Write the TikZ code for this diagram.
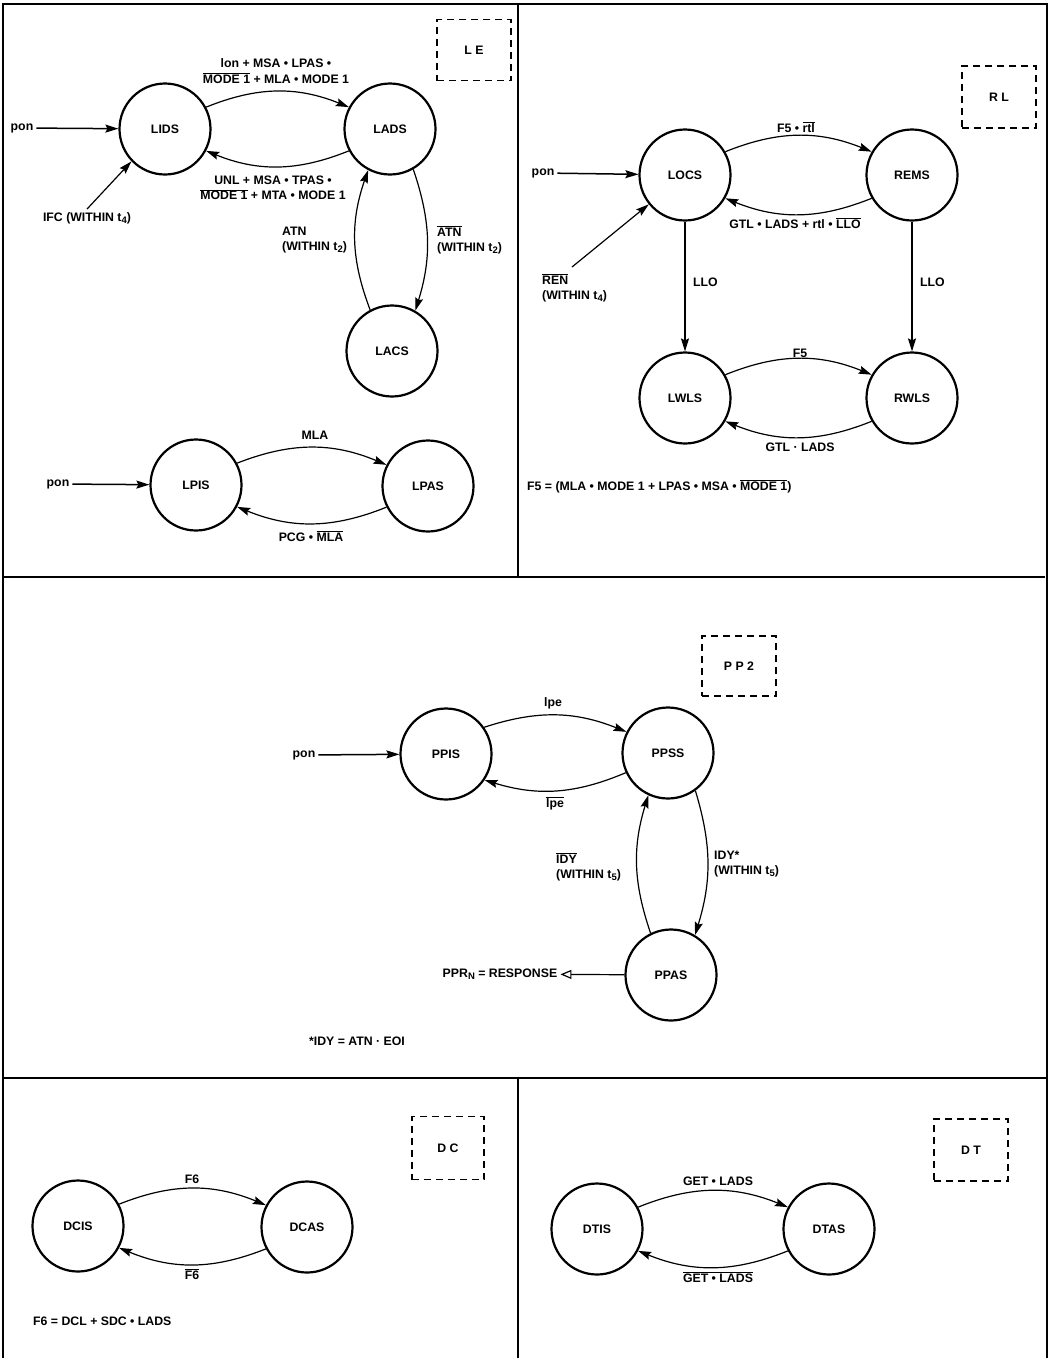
\documentclass[tikz,border=0pt]{standalone}
\usepackage{fontspec}
\setmainfont{Liberation Sans}
\usepackage{tikz}
\usetikzlibrary{arrows.meta, positioning}
\newcommand{\ovl}[1]{$\overline{\hbox{#1}}$}
\newcommand{\lblfont}{\fontsize{12.3}{15.5}\selectfont\bfseries}
\newcommand{\sub}[1]{\raisebox{-0.35ex}{\fontsize{9.5}{10}\selectfont #1}}
\tikzset{
  state/.style={circle, draw=black, line width=2.2pt, minimum size=91pt, inner sep=0pt,
                font=\lblfont},
  lbl/.style={font=\lblfont, inner sep=3pt},
  arr/.style={-{Stealth[length=13pt, width=8pt, inset=2pt]}, line width=1.2pt},
  inarr/.style={-{Stealth[length=13pt, width=8pt, inset=2pt]}, line width=1.5pt},
  tagbox/.style={draw, line width=1.2pt, dash pattern=on 7pt off 5pt,
                 minimum width=74pt, minimum height=61pt, font=\lblfont},
  frame/.style={line width=1.8pt},
}

\begin{document}
\begin{tikzpicture}[x=1pt, y=1pt]
  \useasboundingbox (0,0) rectangle (1050,-1358);
  % frame
  \draw[frame] (3,-1358) -- (3,-4) -- (1047,-4) -- (1047,-1358);
  \draw[frame, line width=2.2pt] (3,-577) -- (1045,-577);
  \draw[frame, line width=2.2pt] (3,-1078) -- (1047,-1078);
  \draw[line width=1.2pt] (518,-4) -- (518,-577);
  \draw[line width=1.2pt] (518,-1078) -- (518,-1358);

  % LE
  \node[tagbox] (tagLE) at (474,-50) {L E};
  \node[state] (LIDS) at (165,-129) {LIDS};
  \node[state] (LADS) at (390,-129) {LADS};
  \node[state] (LACS) at (392,-351) {LACS};
  \node[lbl] (pon1) at (22,-128) {pon};
  \node[lbl] (ifc) at (87,-218) {IFC (WITHIN t\sub{4})};
  \node[lbl, align=center] (le1) at (276,-71) {lon + MSA • LPAS •\\\ovl{MODE 1} + MLA • MODE 1};
  \node[lbl, align=center] (le2) at (273,-188) {UNL + MSA • TPAS •\\\ovl{MODE 1} + MTA • MODE 1};
  \node[lbl, align=left, anchor=west] (atn) at (279,-240) {ATN\\(WITHIN t\sub{2})};
  \node[lbl, align=left, anchor=west] (natn) at (434,-240) {\ovl{ATN}\\(WITHIN t\sub{2})};
  \draw[inarr] (pon1) -- (LIDS);
  \draw[arr] (ifc.north) -- (LIDS.-136);
  \draw[arr] (LIDS.28) to[bend left=22] (LADS.152);
  \draw[arr] (LADS.-152) to[bend left=22] (LIDS.-28);
  \draw[arr] (LADS.-60) to[bend left=18] (LACS.60);
  \draw[arr] (LACS.118) to[bend left=20] (LADS.-118);

  \node[state] (LPIS) at (196,-485) {LPIS};
  \node[state] (LPAS) at (428,-486) {LPAS};
  \node[lbl] (pon2) at (58,-484) {pon};
  \node[lbl] (mla) at (315,-435) {MLA};
  \node[lbl] (pcg) at (311,-536) {PCG • \ovl{MLA}};
  \draw[inarr] (pon2) -- (LPIS);
  \draw[arr] (LPIS.28) to[bend left=22] (LPAS.153);
  \draw[arr] (LPAS.-153) to[bend left=22] (LPIS.-28);

  % RL
  \node[tagbox, minimum height=62pt] (tagRL) at (999,-97) {R L};
  \node[state] (LOCS) at (685,-175) {LOCS};
  \node[state] (REMS) at (912,-175) {REMS};
  \node[state] (LWLS) at (685,-398) {LWLS};
  \node[state] (RWLS) at (912,-398) {RWLS};
  \node[lbl] (pon3) at (543,-173) {pon};
  \node[lbl, align=left, anchor=west] (ren) at (539,-288) {\ovl{REN}\\(WITHIN t\sub{4})};
  \coordinate (renfoot) at (572,-267);
  \node[lbl] (f5rtl) at (796,-127) {F5 • \ovl{rtl}};
  \node[lbl] (gtl1) at (795,-223) {GTL • LADS + rtl • \ovl{LLO}};
  \node[lbl, anchor=west] (llo1) at (690,-282) {LLO};
  \node[lbl, anchor=west] (llo2) at (917,-282) {LLO};
  \node[lbl] (f5) at (800,-353) {F5};
  \node[lbl] (gtl2) at (800,-447) {GTL · LADS};
  \node[lbl, anchor=west] (f5def) at (524,-486) {F5 = (MLA • MODE 1 + LPAS • MSA • \ovl{MODE 1})};
  \draw[inarr] (pon3) -- (LOCS);
  \draw[arr] (renfoot) -- (LOCS.-141);
  \draw[arr] (LOCS.30) to[bend left=22] (REMS.150);
  \draw[arr] (REMS.-150) to[bend left=22] (LOCS.-30);
  \draw[arr] (LOCS) -- (LWLS);
  \draw[arr] (REMS) -- (RWLS);
  \draw[arr] (LWLS.30) to[bend left=22] (RWLS.150);
  \draw[arr] (RWLS.-150) to[bend left=22] (LWLS.-30);

  % PP2
  \node[tagbox, minimum height=60pt] (tagPP) at (739,-666) {P P 2};
  \node[state] (PPIS) at (446,-754) {PPIS};
  \node[state] (PPSS) at (668,-753) {PPSS};
  \node[state] (PPAS) at (671,-975) {PPAS};
  \node[lbl] (pon4) at (304,-755) {pon};
  \node[lbl] (lpe) at (553,-703) {lpe};
  \node[lbl] (nlpe) at (555,-803) {\ovl{lpe}};
  \node[lbl, align=left, anchor=west] (nidy) at (553,-867) {\ovl{IDY}\\(WITHIN t\sub{5})};
  \node[lbl, align=left, anchor=west] (idy) at (711,-864) {IDY*\\(WITHIN t\sub{5})};
  \node[lbl] (ppr) at (500,-974) {PPR\sub{N} = RESPONSE};
  \node[lbl] (idydef) at (357,-1041) {*IDY = ATN · EOI};
  \draw[inarr] (pon4) -- (PPIS);
  \draw[arr] (PPIS.35) to[bend left=20] (PPSS.153);
  \draw[arr] (PPSS.-155) to[bend left=20] (PPIS.-34);
  \draw[arr] (PPSS.-54) to[bend left=17] (PPAS.59);
  \draw[arr] (PPAS.116) to[bend left=18] (PPSS.-115);
  \draw[-{Triangle[open, length=11pt, width=9pt]}, line width=1.2pt] (PPAS) -- (ppr);

  % DC
  \node[tagbox, minimum width=72pt, minimum height=63pt] (tagDC) at (448,-1148) {D C};
  \node[state] (DCIS) at (78,-1226) {DCIS};
  \node[state] (DCAS) at (307,-1227) {DCAS};
  \node[lbl] (f6) at (192,-1179) {F6};
  \node[lbl] (nf6) at (192,-1274) {\ovl{F6}};
  \node[lbl, anchor=west] (f6def) at (30,-1321) {F6 = DCL + SDC • LADS};
  \draw[arr] (DCIS.28) to[bend left=22] (DCAS.152);
  \draw[arr] (DCAS.-152) to[bend left=22] (DCIS.-28);

  % DT
  \node[tagbox, minimum height=62pt] (tagDT) at (971,-1150) {D T};
  \node[state] (DTIS) at (597,-1229) {DTIS};
  \node[state] (DTAS) at (829,-1229) {DTAS};
  \node[lbl] (get) at (718,-1181) {GET • LADS};
  \node[lbl] (nget) at (718,-1277) {\ovl{GET • LADS}};
  \draw[arr] (DTIS.28) to[bend left=22] (DTAS.152);
  \draw[arr] (DTAS.-152) to[bend left=22] (DTIS.-28);
\end{tikzpicture}
\end{document}
